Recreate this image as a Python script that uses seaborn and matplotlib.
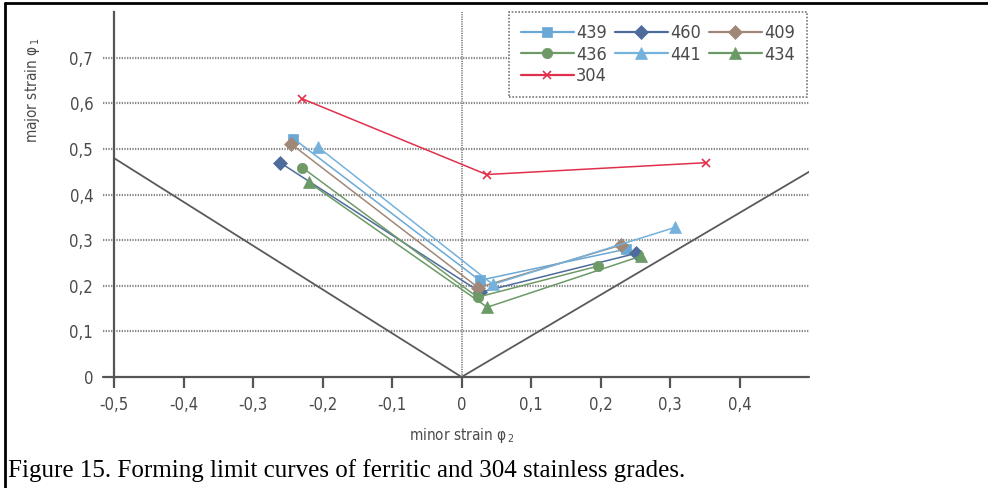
import matplotlib
matplotlib.use("Agg")
import matplotlib.pyplot as plt
from matplotlib.lines import Line2D
import seaborn as sns
import pandas as pd

# Forming limit data: minor strain (phi2) vs major strain (phi1) per grade
grades = ["439", "460", "409", "436", "441", "434", "304"]
minor_439 = [-0.242, 0.026, 0.236]
major_439 = [0.523, 0.212, 0.280]
minor_460 = [-0.261, 0.027, 0.251]
major_460 = [0.470, 0.186, 0.271]
minor_409 = [-0.246, 0.024, 0.229]
major_409 = [0.512, 0.196, 0.289]
minor_436 = [-0.229, 0.023, 0.196]
major_436 = [0.459, 0.175, 0.243]
minor_441 = [-0.207, 0.045, 0.307]
major_441 = [0.505, 0.203, 0.328]
minor_434 = [-0.220, 0.037, 0.258]
major_434 = [0.427, 0.153, 0.265]
minor_304 = [-0.229, 0.036, 0.352]
major_304 = [0.610, 0.444, 0.470]

# Reference strain paths (uniaxial / biaxial bounds)
path_minor = [-0.5, 0.0, 0.5]
path_major = [0.48, 0.0, 0.45]

x_ticks = [-0.5, -0.4, -0.3, -0.2, -0.1, 0.0, 0.1, 0.2, 0.3, 0.4]
x_tick_labels = ["-0,5", "-0,4", "-0,3", "-0,2", "-0,1", "0", "0,1", "0,2", "0,3", "0,4"]
y_ticks = [0.0, 0.1, 0.2, 0.3, 0.4, 0.5, 0.6, 0.7]
y_tick_labels = ["0", "0,1", "0,2", "0,3", "0,4", "0,5", "0,6", "0,7"]

series = {
    "439": (minor_439, major_439),
    "460": (minor_460, major_460),
    "409": (minor_409, major_409),
    "436": (minor_436, major_436),
    "441": (minor_441, major_441),
    "434": (minor_434, major_434),
    "304": (minor_304, major_304),
}
styles = {
    "439": dict(color="#6aa8d6", marker="s", ms=7.5),
    "460": dict(color="#4d6c9c", marker="D", ms=7),
    "409": dict(color="#a08878", marker="D", ms=7),
    "436": dict(color="#6f9a68", marker="o", ms=7.5),
    "441": dict(color="#74b2dc", marker="^", ms=8),
    "434": dict(color="#6a9a66", marker="^", ms=8),
    "304": dict(color="#e0304c", marker="x", ms=6),
}

rows = []
for g in grades:
    xs, ys = series[g]
    for x, y in zip(xs, ys):
        rows.append({"grade": g, "minor": x, "major": y})
df = pd.DataFrame(rows)

sns.set_theme(style="white")
plt.rcParams["font.family"] = ["DejaVu Sans"]
plt.rcParams["font.stretch"] = "condensed"
plt.rcParams["mathtext.fontset"] = "dejavusans"

fig = plt.figure(figsize=(9.88, 4.88), dpi=100)
ax = fig.add_axes([0.1154, 0.2275, 0.7035, 0.7475])

text_gray = "#4a4a4a"
grid_gray = "#8a8a8a"

# dotted horizontal grid, extended a little left of the spine as ticks
for yv in y_ticks[1:]:
    ax.axhline(yv, xmin=-0.016, xmax=1.0, color=grid_gray, lw=1.6,
               ls=(0, (0.6, 0.6)), clip_on=False, zorder=0)
ax.axhline(0.0, xmin=-0.016, xmax=1.0, color="#555555", lw=1.6,
           clip_on=False, zorder=1)
ax.axvline(0.0, color=grid_gray, lw=1.4, ls=(0, (0.6, 0.6)), zorder=0)

sns.lineplot(x=path_minor, y=path_major, ax=ax, color="#5a5a5a", lw=1.3,
             sort=False, legend=False, zorder=1)

handles = {}
for g in grades:
    sub = df[df["grade"] == g]
    st = styles[g]
    mew = 1.2 if st["marker"] == "x" else 0.5
    sns.lineplot(data=sub, x="minor", y="major", ax=ax, sort=False,
                 color=st["color"], lw=1.1, marker=st["marker"],
                 markersize=st["ms"], markeredgecolor=st["color"],
                 markeredgewidth=mew, legend=False, zorder=3)
    handles[g] = Line2D([], [], color=st["color"], lw=1.6, marker=st["marker"],
                        markersize=st["ms"], markeredgecolor=st["color"],
                        markeredgewidth=mew)

ax.set_xlim(-0.5, 0.5)
ax.set_ylim(0.0, 0.8)
ax.set_xticks(x_ticks)
ax.set_xticklabels(x_tick_labels)
ax.set_yticks(y_ticks)
ax.set_yticklabels(y_tick_labels)
ax.tick_params(axis="x", direction="out", length=8, width=1.6, color="#555555",
               labelsize=12, labelcolor=text_gray, pad=6, bottom=True)
ax.tick_params(axis="y", length=0, labelsize=12, labelcolor=text_gray, pad=15)

for side in ["top", "right", "bottom"]:
    ax.spines[side].set_visible(False)
ax.spines["left"].set_color("#555555")
ax.spines["left"].set_linewidth(1.6)

ax.set_xlabel("minor strain φ$_{\\,2}$", fontsize=11, color=text_gray)
ax.xaxis.set_label_coords(0.5, -0.135)
ax.set_ylabel("major strain φ$_{\\,1}$", fontsize=11, color=text_gray)
ax.yaxis.set_label_coords(-0.104, 0.785)

# legend filled column-wise so it reads row-wise in three columns
order = ["439", "436", "304", "460", "441", "409", "434"]
leg = ax.legend([handles[g] for g in order], order, ncol=3,
                loc="upper right", bbox_to_anchor=(0.997, 1.0),
                fontsize=13, handlelength=2.9, handletextpad=0.15,
                columnspacing=0.45, labelspacing=0.2, borderpad=0.65,
                borderaxespad=0.0,
                frameon=True, fancybox=False, framealpha=1.0)
for t in leg.get_texts():
    t.set_color(text_gray)
frame = leg.get_frame()
frame.set_edgecolor("#777777")
frame.set_linestyle((0, (1, 1)))
frame.set_linewidth(1.2)

# page frame edges and caption
fig.add_artist(Line2D([0.005, 1.0], [0.994, 0.994], transform=fig.transFigure,
                      color="black", lw=2))
fig.add_artist(Line2D([0.005, 0.005], [0.0, 0.994], transform=fig.transFigure,
                      color="black", lw=2))
fig.text(0.008, 0.035, "Figure 15. Forming limit curves of ferritic and 304 stainless grades.",
         family=["Liberation Serif", "DejaVu Serif"], stretch="normal",
         fontsize=18, color="black", va="center", ha="left")

fig.savefig("out.png", dpi=100, facecolor="white")
